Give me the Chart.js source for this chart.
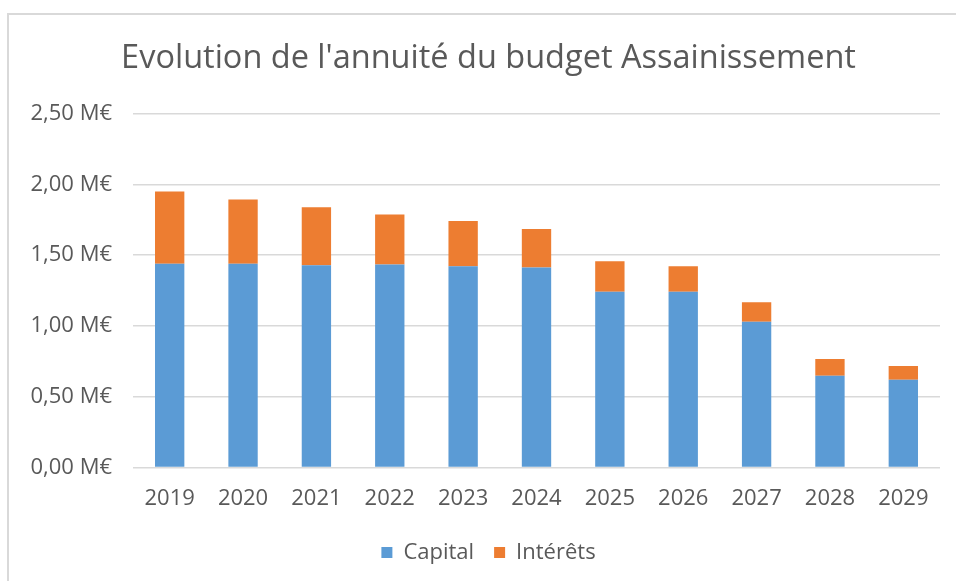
<!DOCTYPE html>
<html>
<head>
<meta charset="utf-8">
<script src="https://cdn.jsdelivr.net/npm/chart.js@4.4.1/dist/chart.umd.min.js"></script>
<style>
  html, body { margin: 0; padding: 0; background: #ffffff; width: 956px; height: 581px; overflow: hidden; }
  #frame { position: absolute; left: 7px; top: 13px; width: 980px; height: 600px;
           border-left: 2px solid #d9d9d9; border-top: 2px solid #d9d9d9; box-sizing: border-box; }
  #wrap { position: absolute; left: 0; top: 0; width: 956px; height: 581px; }
</style>
</head>
<body>
<div id="frame"></div>
<div id="wrap"><canvas id="c" width="956" height="581"></canvas></div>
<script>
const years = ['2019','2020','2021','2022','2023','2024','2025','2026','2027','2028','2029'];
const capital = [1.439, 1.439, 1.429, 1.434, 1.422, 1.413, 1.241, 1.241, 1.030, 0.648, 0.620];
const interets = [0.510, 0.453, 0.409, 0.352, 0.319, 0.271, 0.216, 0.181, 0.137, 0.118, 0.097];
const titleText = "Evolution de l'annuité du budget Assainissement";
const seriesNames = ['Capital', 'Intérêts'];

const FONT = "'Open Sans', 'Noto Sans', sans-serif";
const GREY = '#595959';

// Center title and legend over the same span as the reference (x 37..940)
const recenter = {
  id: 'recenter',
  afterLayout(chart) {
    if (chart.titleBlock) { chart.titleBlock.left = 37; }
    if (chart.legend) { chart.legend.left = 37; }
  }
};

new Chart(document.getElementById('c'), {
  type: 'bar',
  data: {
    labels: years,
    datasets: [
      { label: seriesNames[0], data: capital, backgroundColor: '#5b9bd5', categoryPercentage: 0.8, barPercentage: 0.5 },
      { label: seriesNames[1], data: interets, backgroundColor: '#ed7d31', categoryPercentage: 0.8, barPercentage: 0.5 }
    ]
  },
  plugins: [recenter],
  options: {
    responsive: false,
    animation: false,
    layout: { padding: { top: 0, left: 0, right: 16, bottom: 7.5 } },
    plugins: {
      title: {
        display: true, text: titleText, color: GREY,
        font: { family: FONT, size: 32.5, weight: 'normal', lineHeight: 1.2 },
        padding: { top: 39.5, bottom: 35 }
      },
      legend: {
        position: 'bottom',
        labels: {
          color: GREY, boxWidth: 11, boxHeight: 11, padding: 20,
          font: { family: FONT, size: 22 }
        }
      },
      tooltip: { enabled: false }
    },
    scales: {
      x: {
        stacked: true,
        grid: { display: false, drawTicks: false },
        border: { display: false },
        ticks: { color: GREY, font: { family: FONT, size: 22 }, padding: 18, maxRotation: 0 },
        afterFit: (a) => { a.height = 54; }
      },
      y: {
        stacked: true, min: 0, max: 2.5,
        grid: { color: '#d9d9d9', lineWidth: 1.5, drawTicks: false },
        border: { display: false },
        ticks: {
          stepSize: 0.5, color: GREY, padding: 21,
          font: { family: FONT, size: 22 },
          callback: (v) => v.toFixed(2).replace('.', ',') + ' M€'
        },
        afterFit: (a) => { a.width = 133; }
      }
    }
  }
});
</script>
</body>
</html>
